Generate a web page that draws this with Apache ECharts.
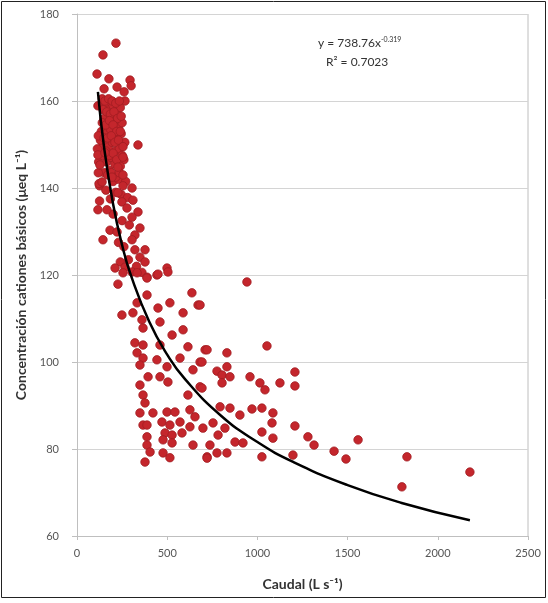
<!DOCTYPE html>
<html>
<head>
<meta charset="utf-8">
<script src="https://cdn.jsdelivr.net/npm/echarts@6/dist/echarts.min.js"></script>
<style>
  html, body { margin: 0; padding: 0; background: #fff; }
  #chart { width: 548px; height: 603px; }
</style>
</head>
<body>
<div id="chart"></div>
<script>
// puntos: [caudal, concentración]
const puntosAltos = [
  [216,173.3],[144,170.6],[111,166.2],[177,165.1],[294,164.8],[300,163.5],[222,163.2],[150,162.8],
  [261,162.1],[266,160],[116,158.9],[338,149.9]
];
const puntosCumbre = [
  [140,160.5],[160,159.5],[180,158],[200,159],[220,157.5],[240,158.5],[150,156],[170,155],
  [190,156.5],[210,155.5],[230,154],[250,155],[135,153],[160,152.5],[185,153.5],[205,152],
  [225,151],[245,152.5],[265,150.5],[145,150],[175,149.5],[195,150.5],[215,148.5],[235,149],
  [260,146.5],[130,151],[165,146],[190,147],[210,145.5],[240,145],[150,143.5],[180,144],
  [200,141.5],[230,142],[270,141.5],[125,140.5],[160,139.5],[215,139],[245,138.5],[185,137.5],
  [280,137.8],[200,134],[250,132.5],[290,131.5],[230,127.5],[260,126.5],[285,123.5],[240,123],
  [330,122],[360,120.6],[118,152],[120,146],[122,141],[125,137],[113,149],[118,143.5]
];
const puntosRelleno = [
  [155,160],[175,160.5],[195,160],[215,159.5],[235,160],[145,158],[165,157.5],[185,157],
  [205,157.5],[225,156],[245,156.5],[140,155],[160,154.5],[180,155.5],[200,154.5],[220,153],
  [240,153],[150,151.5],[170,151.5],[190,152],[210,150.5],[230,151],[255,149.5],[140,147.5],
  [160,148.5],[180,147.5],[200,148],[220,146.5],[250,147.5],[170,143],[190,143.5],[215,142.5],
  [235,143.5],[255,140.5]
];
const puntosColumna = [
  [116,147.6],[155,148.1],[255,147.1],[127,145.3],[227,144.8],[255,143],[139,141.4],[194,142.5],
  [305,140],[227,138.9],[310,137.2],[116,135],[166,135],[249,136.8],[277,135.4],[338,134.5],
  [305,133.3],[183,130.3],[222,129.9],[349,130.8],[321,129.2],[144,128.1],[305,128.1],[377,125.8],
  [321,125.8],[349,124.1],[377,123],[211,121.6],[266,121.8],[305,120.7],[388,119.5],[443,120],
  [499,121.6]
];
const puntosMedios = [
  [255,120.5],[333,120.5],[388,119.3],[449,120.2],[504,120.7],[227,117.9],[388,115.4],[333,113.6],
  [637,115.9],[671,113.1],[515,113.6],[449,112.4],[249,110.8],[310,111.3],[360,109.7],[460,109.2],
  [588,111.3],[366,107.8],[588,107.4],[527,106.2],[321,104.4],[366,103.9],[460,103.9],[615,103.5],
  [710,102.8],[333,102.1],[366,100.9],[443,100.5],[571,100.9],[682,100],[349,99.3],[499,98.9],
  [643,98.2],[394,96.6],[460,96.6],[504,95.4],[349,94.7],[682,94.3],[366,92.4],[615,92.4],
  [377,90.6],[349,88.3],[421,88.3],[499,88.5],[543,88.5],[626,89],[654,87.4],[471,86.2],
  [515,85.5],[571,86.2],[366,85.5],[626,85.1],[698,84.8],[488,83.7],[527,83.2],[582,83.7],
  [388,82.8],[477,82.1],[388,80.9],[527,81.4],[643,80.9],[405,79.3],[477,79.1],[515,78],
  [377,77],[721,78.2],[388,85.5]
];
const puntosBajos = [
  [942,118.4],[682,113.1],[721,102.8],[831,102.1],[1053,103.7],[693,100],[776,97.9],[831,98.9],
  [804,97],[848,96.6],[804,95.2],[959,96.6],[1014,95.2],[1042,93.6],[1125,95.2],[1208,97.7],
  [1208,94.5],[693,94],[793,89.7],[848,89.4],[903,87.8],[970,89.2],[1025,89.4],[1086,88.3],
  [1081,86],[1025,83.9],[1208,85.3],[754,86],[820,84.8],[782,83.2],[876,81.6],[920,81.4],
  [1086,82.5],[1280,82.8],[1314,80.9],[737,80.9],[776,79.1],[831,79.1],[721,77.9],[1025,78.2],
  [1197,78.6],[1425,79.5],[1491,77.7],[1558,82.1],[1829,78.2],[1801,71.3],[2178,74.7]
];

// curva de tendencia (y = 738.76x^-0.319)
const tendenciaX = [116, 150, 200, 250, 300, 400, 500, 600, 800, 1000, 1200, 1500, 1800, 2178];
const tendenciaY = [162.1, 149.4, 136.3, 126.9, 119.8, 109.3, 101.7, 96.0, 87.6, 81.6, 77.0, 71.7, 67.6, 63.6];

const xTicks = [0, 500, 1000, 1500, 2000, 2500];
const yTicks = [60, 80, 100, 120, 140, 160, 180];

const fuente = 'Lato, "Open Sans", sans-serif';
const chart = echarts.init(document.getElementById('chart'));

const puntos = [].concat(puntosAltos, puntosCumbre, puntosRelleno, puntosColumna, puntosMedios, puntosBajos);

chart.setOption({
  backgroundColor: '#fff',
  animation: false,
  textStyle: { fontFamily: fuente },
  grid: { left: 77, right: 20, top: 14, bottom: 67 },
  xAxis: {
    type: 'value',
    min: xTicks[0],
    max: xTicks[xTicks.length - 1],
    interval: 500,
    name: 'Caudal (L s⁻¹)',
    nameLocation: 'middle',
    nameGap: 41,
    nameTextStyle: { fontSize: 14, fontWeight: 'bold', color: '#333', fontFamily: fuente },
    axisLine: { lineStyle: { color: '#bfbfbf', width: 1 } },
    axisTick: { show: true, length: 4, lineStyle: { color: '#bfbfbf' } },
    axisLabel: { color: '#555', fontSize: 11, margin: 12, fontFamily: fuente, formatter: v => String(v) },
    splitLine: { show: false }
  },
  yAxis: {
    type: 'value',
    min: yTicks[0],
    max: yTicks[yTicks.length - 1],
    interval: 20,
    name: 'Concentración cationes básicos (μeq L⁻¹)',
    nameLocation: 'middle',
    nameGap: 42,
    nameRotate: 90,
    nameTextStyle: { fontSize: 14, fontWeight: 'bold', color: '#333', fontFamily: fuente },
    axisLine: { show: true, lineStyle: { color: '#bfbfbf', width: 1 } },
    axisTick: { show: true, length: 5, lineStyle: { color: '#bfbfbf' } },
    axisLabel: { color: '#555', fontSize: 11, margin: 18, fontFamily: fuente },
    splitLine: { lineStyle: { color: '#d4d4d4', width: 1 } }
  },
  graphic: [
    {
      type: 'rect',
      shape: { x: 1.5, y: 1.5, width: 544, height: 596 },
      style: { fill: 'none', stroke: '#222', lineWidth: 1 },
      silent: true
    },
    {
      type: 'rect',
      shape: { x: 528, y: 14, width: 0, height: 522 },
      style: { fill: 'none', stroke: '#d4d4d4', lineWidth: 1 },
      silent: true
    },
    {
      type: 'text',
      left: 318,
      top: 36,
      style: {
        text: '{b|y = 738.76x}{s|-0.319}',
        rich: {
          b: { fontSize: 12, fill: '#333', fontFamily: fuente },
          s: { fontSize: 7, fill: '#333', fontFamily: fuente, padding: [0, 0, 8, 0] }
        }
      }
    },
    {
      type: 'text',
      left: 326,
      top: 56,
      style: {
        text: 'R² = 0.7023',
        fontSize: 12,
        fill: '#333',
        fontFamily: fuente
      }
    }
  ],
  series: [
    {
      type: 'scatter',
      data: puntos,
      symbolSize: 8.5,
      itemStyle: { color: '#c4262c', borderColor: '#a11d22', borderWidth: 0.8, opacity: 1 },
      z: 2
    },
    {
      type: 'line',
      data: tendenciaX.map((x, i) => [x, tendenciaY[i]]),
      smooth: true,
      showSymbol: false,
      lineStyle: { color: '#000', width: 2.5 },
      z: 3
    }
  ]
});
</script>
</body>
</html>
